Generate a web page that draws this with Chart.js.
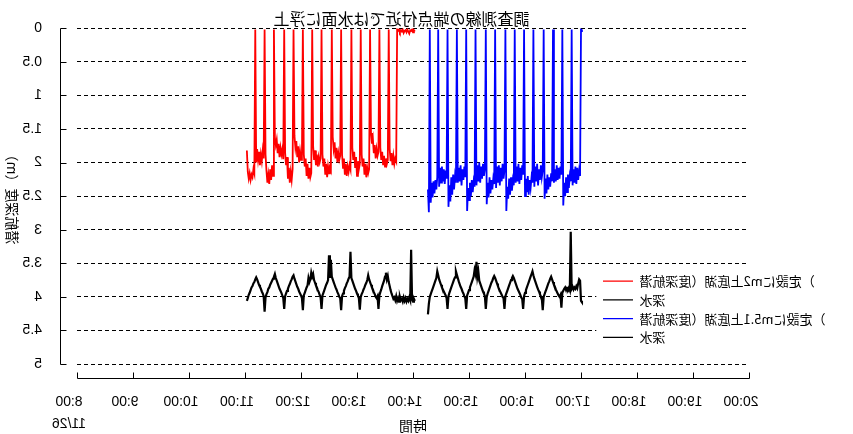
<!DOCTYPE html>
<html>
<head>
<meta charset="utf-8">
<script src="https://cdn.jsdelivr.net/npm/chart.js@4/dist/chart.umd.min.js"></script>
<style>
  html, body { margin: 0; padding: 0; background: #fff; }
  canvas { display: block; }
</style>
</head>
<body>
<canvas id="c" width="853" height="434"></canvas>
<script>
// ---- texts ----
const chartTitle = '調査測線の端点付近では水面に浮上';
const xAxisTitle = '時間';
const yAxisTitle = '潜航深度（m）';
const firstDate = '11/26';
const timeRange = ['8:00', '20:00'];
const seriesNames = ['潜航深度（湖底上2mに設定）', '水深', '潜航深度（湖底上1.5mに設定）', '水深'];

// ---- run 1 (vehicle 2 m above the lake bed), one sample per minute ----
const run1Start = '11:02';
const run1Dive = [
  1.82, 2.14, 2.24, 2.16, 2.26, 2.18, 2.22, 2.10, 2.16, 0.02,
  2.00, 1.80, 1.96, 1.84, 2.04, 1.88, 1.98, 1.82, 1.94, 0.02,
  1.88, 2.12, 2.30, 2.18, 2.32, 2.10, 2.26, 2.04, 2.20, 0.02,
  1.62, 1.74, 1.66, 1.86, 1.72, 1.92, 1.78, 1.88, 1.80, 1.95, 0.02,
  1.86, 2.04, 1.92, 2.24, 2.08, 2.30, 2.14, 2.26, 2.10, 0.02,
  1.60, 1.78, 1.68, 1.92, 1.76, 2.00, 1.84, 1.96, 1.90, 0.02,
  1.88, 2.06, 1.94, 2.20, 2.02, 2.24, 2.08, 2.22, 2.16, 0.02,
  1.76, 1.96, 1.82, 2.04, 1.88, 2.06, 1.92, 2.00, 1.94, 0.02,
  1.88, 2.06, 1.94, 2.18, 2.02, 2.22, 2.06, 2.16, 2.08, 2.12, 0.02,
  1.62, 1.80, 1.70, 1.94, 1.78, 2.00, 1.86, 1.96, 1.90, 0.02,
  1.88, 2.08, 1.94, 2.18, 2.02, 2.20, 2.06, 2.14, 2.04, 2.10, 0.02,
  1.78, 1.96, 1.84, 2.08, 1.92, 2.20, 1.98, 2.10, 2.02, 0.02,
  1.88, 2.06, 1.94, 2.18, 2.02, 2.22, 2.08, 2.16, 2.10, 0.02,
  1.56, 1.72, 1.64, 1.86, 1.74, 1.94, 1.80, 1.90, 1.84, 0.02,
  1.78, 1.96, 1.84, 2.04, 1.90, 2.06, 1.94, 2.02, 1.96, 0.02,
  1.80, 1.98, 1.86, 2.04, 1.90, 2.02, 1.94, 1.98, 0.02,
  0.04, 0.02, 0.06, 0.03, 0.05, 0.02, 0.07, 0.04, 0.03, 0.06,
  0.02, 0.05, 0.08, 0.03, 0.04, 0.02, 0.06, 0.03, 0.05
];
const run1Water = [
  4.06, 4.02, 3.97, 3.94, 3.90, 3.86, 3.84, 3.80, 3.78, 3.74,
  3.71, 3.74, 3.78, 3.82, 3.85, 3.88, 3.92, 3.95, 3.99, 4.22,
  4.01, 3.96, 3.93, 3.88, 3.86, 3.82, 3.79, 3.76, 3.73, 3.70,
  3.66, 3.72, 3.76, 3.80, 3.84, 3.88, 3.91, 3.94, 3.98, 4.02,
  4.18, 3.99, 3.95, 3.91, 3.88, 3.84, 3.81, 3.77, 3.74, 3.70,
  3.68, 3.73, 3.77, 3.81, 3.85, 3.88, 3.92, 3.95, 3.98, 4.02,
  4.20, 3.98, 3.94, 3.90, 3.86, 3.83, 3.72, 3.78, 3.74, 3.64,
  3.70, 3.66, 3.75, 3.79, 3.83, 3.86, 3.90, 3.93, 3.97, 4.01,
  4.18, 3.98, 3.94, 3.90, 3.86, 3.82, 3.79, 3.75, 3.38, 3.72,
  3.45, 3.70, 3.74, 3.78, 3.82, 3.86, 3.89, 3.93, 3.96, 4.00,
  4.02, 4.20, 3.99, 3.95, 3.91, 3.87, 3.84, 3.80, 3.77, 3.73,
  3.70, 3.33, 3.72, 3.76, 3.80, 3.84, 3.88, 3.91, 3.95, 3.98,
  4.02, 4.19, 4.00, 3.96, 3.93, 3.89, 3.86, 3.82, 3.79, 3.75,
  3.68, 3.74, 3.78, 3.82, 3.86, 3.89, 3.93, 3.96, 4.00, 4.02,
  3.99, 4.18, 3.98, 3.93, 3.89, 3.84, 3.80, 3.76, 3.70, 3.64,
  3.74, 3.69, 3.78, 3.84, 3.90, 3.95, 3.99, 4.03, 4.01, 4.05,
  3.99, 4.06, 4.02, 4.07, 4.00, 4.05, 4.03, 4.07, 4.01, 4.06,
  4.02, 4.07, 4.03, 4.06, 4.01, 4.05, 3.30, 4.04, 4.07, 4.03,
  4.06
];

// ---- run 2 (vehicle 1.5 m above the lake bed), one sample per minute ----
const run2Start = '14:16';
const run2Dive = [
  2.40, 2.74, 0.02,
  2.60, 2.30, 2.52, 2.28, 2.46, 2.26, 2.40, 2.22, 0.02,
  2.36, 2.08, 2.30, 2.06, 2.28, 2.10, 2.32, 2.12, 2.24, 0.02,
  2.66, 2.34, 2.58, 2.22, 2.48, 2.18, 2.40, 2.20, 2.30, 0.02,
  2.30, 2.08, 2.28, 2.04, 2.34, 2.10, 2.26, 2.06, 2.22, 0.02,
  2.72, 2.38, 2.56, 2.30, 2.50, 2.26, 2.44, 2.28, 2.36, 0.02,
  2.34, 2.04, 2.28, 2.00, 2.30, 2.06, 2.24, 2.02, 2.20, 2.10, 0.02,
  2.62, 2.30, 2.52, 2.22, 2.46, 2.26, 2.40, 2.24, 2.32, 0.02,
  2.38, 2.06, 2.30, 2.04, 2.34, 2.08, 2.28, 2.02, 2.24, 2.12, 0.02,
  2.72, 2.36, 2.54, 2.24, 2.48, 2.22, 2.42, 2.26, 2.34, 0.02,
  2.30, 2.06, 2.28, 2.02, 2.32, 2.08, 2.26, 2.04, 2.18, 0.02,
  2.50, 2.24, 2.44, 2.20, 2.48, 2.26, 2.38, 2.22, 2.30, 0.02,
  2.36, 2.06, 2.28, 2.02, 2.34, 2.10, 2.26, 2.04, 2.22, 2.12, 0.02,
  2.54, 2.24, 2.46, 2.18, 2.40, 2.22, 2.36, 2.16, 2.28, 0.02,
  2.30, 2.10, 2.28, 2.04, 2.26, 2.08, 2.24, 2.06, 2.18, 0.02,
  2.64, 2.30, 2.50, 2.22, 2.44, 2.18, 2.38, 2.20, 2.28, 0.02,
  2.34, 2.10, 2.30, 2.06, 2.32, 2.08, 2.26, 2.12, 2.20, 0.02,
  0.03
];
const run2Water = [
  4.26, 4.10, 4.00, 3.96, 3.92, 3.88, 3.84, 3.80, 3.76, 3.72,
  3.62, 3.68, 3.74, 3.78, 3.82, 3.86, 3.89, 3.92, 3.95, 3.98,
  4.02, 4.18, 3.99, 3.94, 3.90, 3.86, 3.82, 3.78, 3.74, 3.71,
  3.62, 3.67, 3.72, 3.77, 3.81, 3.85, 3.88, 3.92, 3.95, 3.99,
  4.02, 4.18, 3.98, 3.94, 3.90, 3.86, 3.82, 3.78, 3.74, 3.70,
  3.60, 3.66, 3.48, 3.70, 3.62, 3.76, 3.80, 3.84, 3.88, 3.92,
  3.95, 3.99, 4.18, 4.00, 3.95, 3.91, 3.87, 3.83, 3.79, 3.76,
  3.72, 3.69, 3.72, 3.76, 3.80, 3.84, 3.88, 3.91, 3.94, 3.97,
  4.00, 4.02, 4.18, 3.99, 3.95, 3.91, 3.87, 3.83, 3.79, 3.75,
  3.72, 3.69, 3.72, 3.76, 3.80, 3.84, 3.88, 3.91, 3.94, 3.97,
  4.01, 4.03, 4.18, 3.99, 3.94, 3.90, 3.86, 3.82, 3.78, 3.74,
  3.70, 3.66, 3.62, 3.68, 3.73, 3.77, 3.81, 3.85, 3.89, 3.92,
  3.96, 3.99, 4.02, 4.20, 4.00, 3.96, 3.92, 3.88, 3.84, 3.80,
  3.77, 3.73, 3.70, 3.74, 3.78, 3.82, 3.85, 3.89, 3.92, 3.95,
  3.98, 4.00, 3.97, 4.16, 3.94, 3.91, 3.88, 3.86, 3.90, 3.87,
  3.89, 3.86, 3.90, 3.03, 3.88, 3.85, 3.89, 3.86, 3.88, 3.84,
  3.87, 3.80, 3.74, 3.76, 4.06, 4.08
];

// ---- helpers ----
function toMinutes(hm) {
  const [h, m] = hm.split(':').map(Number);
  return h * 60 + m;
}
function minuteSeries(start, values) {
  const t0 = toMinutes(start);
  return values.map((v, i) => ({ x: t0 + i, y: v }));
}

// Every label on this chart is printed mirrored left-to-right in place.
const nativeFillText = CanvasRenderingContext2D.prototype.fillText;
function fontSizeOf(ctx) {
  const m = /(\d+(?:\.\d+)?)px/.exec(ctx.font);
  return m ? parseFloat(m[1]) : 12;
}
function textCenter(ctx, text, x, y) {
  const w = ctx.measureText(text).width;
  const size = fontSizeOf(ctx);
  const align = ctx.textAlign;
  let cx = x + w / 2;
  if (align === 'center') cx = x;
  else if (align === 'right' || align === 'end') cx = x - w / 2;
  const base = ctx.textBaseline;
  let cy = y - 0.35 * size;
  if (base === 'middle') cy = y;
  else if (base === 'top' || base === 'hanging') cy = y + 0.5 * size;
  else if (base === 'bottom' || base === 'ideographic') cy = y - 0.5 * size;
  return [cx, cy];
}
function mirroredFill(ctx, text, x, y, maxWidth) {
  const [cx, cy] = textCenter(ctx, text, x, y);
  const t = ctx.getTransform();
  const sx = t.a * cx + t.c * cy + t.e;
  ctx.save();
  ctx.setTransform(-t.a, t.b, -t.c, t.d, 2 * sx - t.e, t.f);
  if (maxWidth === undefined || maxWidth === null) nativeFillText.call(ctx, text, x, y);
  else nativeFillText.call(ctx, text, x, y, maxWidth);
  ctx.restore();
}
// legend entries: each character is mirrored on its own, reading order kept
function glyphMirroredFill(ctx, text, x, y) {
  const total = ctx.measureText(text).width;
  let px = x;
  if (ctx.textAlign === 'center') px = x - total / 2;
  else if (ctx.textAlign === 'right' || ctx.textAlign === 'end') px = x - total;
  ctx.save();
  ctx.textAlign = 'left';
  for (const ch of text) {
    const w = ctx.measureText(ch).width;
    mirroredFill(ctx, ch, px, y);
    px += w;
  }
  ctx.restore();
}

const canvas = document.getElementById('c');
const ctx = canvas.getContext('2d');
ctx.fillText = function (text, x, y, maxWidth) {
  const s = String(text);
  if (this.glyphwise) glyphMirroredFill(this, s, x, y);
  else mirroredFill(this, s, x, y, maxWidth);
};

// Axis lines sit a little outside the plotting area, with inward ticks.
const offsetAxes = {
  id: 'offsetAxes',
  afterDraw(chart) {
    const { ctx, chartArea: a, scales: { x, y } } = chart;
    const axisX = Math.round(a.left) - 17 + 0.5;
    const axisY = Math.round(a.bottom) + 14 + 0.5;
    ctx.save();
    ctx.strokeStyle = '#000';
    ctx.lineWidth = 1;
    ctx.beginPath();
    ctx.moveTo(axisX, Math.round(y.getPixelForValue(y.min)) + 0.5);
    ctx.lineTo(axisX, Math.round(y.getPixelForValue(y.max)) + 0.5);
    y.ticks.forEach(t => {
      const py = Math.round(y.getPixelForValue(t.value)) + 0.5;
      ctx.moveTo(axisX, py);
      ctx.lineTo(axisX + 6, py);
    });
    ctx.moveTo(Math.round(x.getPixelForValue(x.min)) + 0.5, axisY);
    ctx.lineTo(Math.round(x.getPixelForValue(x.max)) + 0.5, axisY);
    x.ticks.forEach(t => {
      const px = Math.round(x.getPixelForValue(t.value)) + 0.5;
      ctx.moveTo(px, axisY);
      ctx.lineTo(px, axisY - 6);
    });
    ctx.stroke();
    ctx.restore();
  }
};

// Legend floats over the lower right corner of the plot on a white panel,
// so it takes no room away from the plotting area; the title is centred
// over the plot including the offset y axis.
const floatingBoxes = {
  id: 'floatingBoxes',
  beforeLayout(chart) {
    const lg = chart.legend;
    if (lg && !lg._floating) {
      const proto = Object.getPrototypeOf(lg);
      lg.fit = function () {
        proto.fit.call(this);
        this.width = 0;
      };
      lg.draw = function (area) {
        const c = this.ctx;
        c.save();
        c.fillStyle = '#fff';
        c.fillRect(this.left - 1, this.top, this.right - this.left + 1, this.bottom - this.top);
        c.restore();
        c.glyphwise = true;
        try {
          proto.draw.call(this, area);
        } finally {
          c.glyphwise = false;
        }
      };
      lg._floating = true;
    }
  },
  afterLayout(chart) {
    const a = chart.chartArea;
    const lg = chart.legend;
    lg.left = a.right - 151.7;
    lg.top = a.top + 240.8;
    lg.right = chart.width;
    lg.bottom = lg.top + 88;
    lg.width = lg.right - lg.left;
    lg.height = lg.bottom - lg.top;
    const tb = chart.titleBlock;
    if (tb) {
      tb.left = a.left - 23;
      tb.right = a.right;
      tb.width = tb.right - tb.left;
    }
  }
};

const cjk = '"Noto Sans CJK JP", "Noto Sans", sans-serif';
const latin = '"Liberation Sans", Arial, sans-serif';

new Chart(canvas, {
  type: 'line',
  data: {
    datasets: [
      { label: seriesNames[0], data: minuteSeries(run1Start, run1Dive), borderColor: '#ff0000', borderWidth: 1.8 },
      { label: seriesNames[1], data: minuteSeries(run1Start, run1Water), borderColor: '#000000', borderWidth: 2.2 },
      { label: seriesNames[2], data: minuteSeries(run2Start, run2Dive), borderColor: '#0000ff', borderWidth: 1.8 },
      { label: seriesNames[3], data: minuteSeries(run2Start, run2Water), borderColor: '#000000', borderWidth: 2.2 }
    ]
  },
  options: {
    responsive: false,
    animation: false,
    events: [],
    elements: { point: { radius: 0 }, line: { tension: 0, fill: false } },
    layout: { padding: { left: 0, right: 104, top: 0, bottom: 0 } },
    scales: {
      x: {
        type: 'linear',
        min: toMinutes(timeRange[0]),
        max: toMinutes(timeRange[1]),
        afterFit: s => { s.height = 70; },
        grid: { display: false },
        border: { display: false },
        ticks: {
          stepSize: 60,
          autoSkip: false,
          maxRotation: 0,
          padding: 19,
          labelOffset: -8,
          color: '#000',
          font: { family: latin, size: 14, lineHeight: '22px' },
          callback: v => {
            const label = (v / 60) + ':00';
            return v === toMinutes(timeRange[0]) ? [label, firstDate] : label;
          }
        },
        title: {
          display: true,
          text: xAxisTitle,
          color: '#000',
          font: { family: cjk, size: 14 },
          padding: { top: 0, bottom: 0 }
        }
      },
      y: {
        type: 'linear',
        reverse: true,
        min: 0,
        max: 5,
        afterFit: s => { s.width = 77; s.paddingTop = 0; s.paddingBottom = 0; },
        grid: { color: '#000', lineWidth: 1, drawTicks: false },
        border: { display: false, dash: [4, 3] },
        ticks: {
          stepSize: 0.5,
          padding: 35,
          color: '#000',
          font: { family: latin, size: 14 },
          callback: v => String(v)
        },
        title: {
          display: true,
          text: yAxisTitle,
          color: '#000',
          font: { family: cjk, size: 14 },
          padding: { top: 4.1, bottom: 0 }
        }
      }
    },
    plugins: {
      title: {
        display: true,
        text: chartTitle,
        color: '#000',
        fullSize: false,
        font: { family: cjk, size: 16, weight: 'normal' },
        padding: { top: 9, bottom: 0 }
      },
      legend: {
        position: 'right',
        fullSize: false,
        align: 'start',
        labels: {
          boxWidth: 30,
          boxHeight: 1.2,
          padding: 5.7,
          color: '#000',
          font: { family: cjk, size: 13 },
          generateLabels: chart => chart.data.datasets.map((ds, i) => ({
            text: ds.label,
            fillStyle: ds.borderColor,
            strokeStyle: ds.borderColor,
            lineWidth: 0,
            hidden: false,
            datasetIndex: i,
            fontColor: '#000'
          }))
        }
      },
      tooltip: { enabled: false }
    }
  },
  plugins: [offsetAxes, floatingBoxes]
});
</script>
</body>
</html>
